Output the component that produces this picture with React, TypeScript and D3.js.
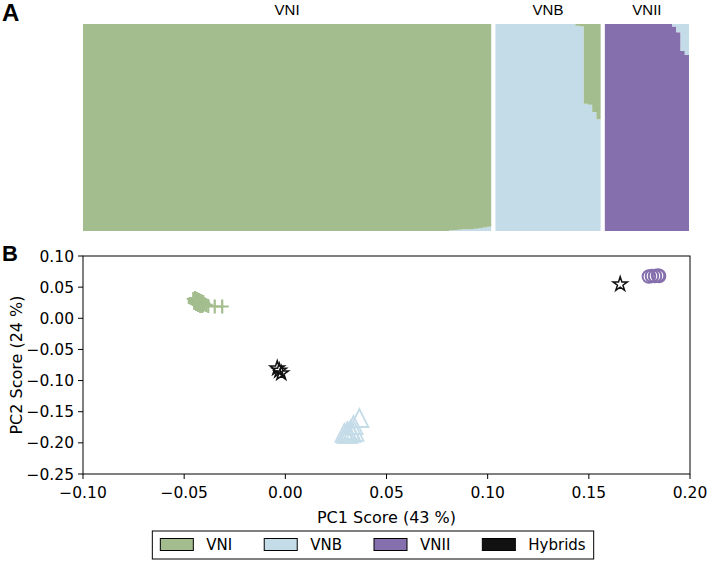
import React from 'react';
import * as d3 from 'd3';

const W = 711;
const H = 562;

// ---------- Panel A: admixture proportions per individual ----------
const groupNames = ['VNI', 'VNB', 'VNII'];
const colors: Record<string, string> = {
  VNI: '#a3bd8e',
  VNB: '#c4dbe8',
  VNII: '#866fad',
  Hybrids: '#111111',
};

// VNI individuals: share of VNB ancestry (remainder VNI)
const vniShareVNB = [
  0, 0, 0, 0, 0, 0, 0, 0, 0, 0, 0, 0, 0, 0, 0, 0, 0, 0, 0, 0,
  0, 0, 0, 0, 0, 0, 0, 0, 0, 0, 0, 0, 0, 0, 0, 0, 0, 0, 0, 0,
  0, 0, 0, 0, 0, 0, 0, 0, 0, 0, 0, 0, 0, 0, 0, 0, 0, 0, 0, 0,
  0, 0, 0, 0, 0, 0, 0, 0, 0, 0, 0, 0, 0, 0, 0, 0, 0, 0, 0, 0,
  0, 0, 0, 0, 0, 0, 0, 0.004, 0.005, 0.006, 0.008, 0.009, 0.01, 0.011, 0.015, 0.017,
  0.02,
];
// VNB individuals: share of VNI ancestry (remainder VNB)
const vnbShareVNI = [
  0, 0, 0, 0, 0, 0, 0, 0, 0, 0, 0, 0, 0, 0, 0, 0, 0, 0, 0, 0.008,
  0.012, 0.385, 0.39, 0.425, 0.46,
];
// VNII individuals: share of VNB ancestry (remainder VNII)
const vniiShareVNB = [
  0, 0, 0, 0, 0, 0, 0, 0, 0, 0, 0, 0, 0, 0, 0, 0, 0.012, 0.04, 0.13, 0.15,
];

// ---------- Panel B: PCA scores [PC1, PC2] ----------
const vniPoints: [number, number][] = [
  [-0.0455, 0.031], [-0.045, 0.0278], [-0.0446, 0.0294], [-0.0441, 0.0262],
  [-0.0436, 0.0278], [-0.0431, 0.0246], [-0.0426, 0.0262], [-0.0421, 0.023],
  [-0.0416, 0.0246], [-0.0411, 0.023], [-0.0406, 0.0214], [-0.0446, 0.0326],
  [-0.0436, 0.031], [-0.0426, 0.0294], [-0.0416, 0.0278], [-0.0406, 0.0262],
  [-0.045, 0.0246], [-0.0441, 0.023], [-0.0431, 0.0214], [-0.0421, 0.0197],
  [-0.0411, 0.0197], [-0.0401, 0.023], [-0.0391, 0.0214], [-0.0381, 0.0197],
  [-0.0349, 0.0189], [-0.0312, 0.0189],
];
const vnbPoints: [number, number][] = [
  [0.0366, -0.1601], [0.0337, -0.1713], [0.0307, -0.1809], [0.0292, -0.1841],
  [0.0312, -0.1857], [0.0327, -0.1841], [0.0342, -0.1825], [0.0322, -0.1793],
  [0.0302, -0.1857],
];
const vniiPoints: [number, number][] = [
  [0.1797, 0.0671], [0.1812, 0.0679], [0.1827, 0.0679], [0.1842, 0.0687], [0.1847, 0.0679],
];
const hybridPoints: [number, number][] = [
  [-0.004, -0.0803], [-0.003, -0.084], [-0.002, -0.0883], [0.1655, 0.0546],
];

const xTicks = [-0.1, -0.05, 0, 0.05, 0.1, 0.15, 0.2];
const yTicks = [-0.25, -0.2, -0.15, -0.1, -0.05, 0, 0.05, 0.1];
const legendLabels = ['VNI', 'VNB', 'VNII', 'Hybrids'];

const sans = 'DejaVu Sans, sans-serif';
const narrow = '"Liberation Sans Narrow", "Arial Narrow", sans-serif';

function starPath(cx: number, cy: number, R: number) {
  const r = R * 0.381966;
  const pts: string[] = [];
  for (let i = 0; i < 10; i++) {
    const a = -Math.PI / 2 + (i * Math.PI) / 5;
    const rad = i % 2 === 0 ? R : r;
    pts.push(`${cx + rad * Math.cos(a)},${cy + rad * Math.sin(a)}`);
  }
  return `M${pts.join('L')}Z`;
}

function measure(text: string, font: string) {
  const c = document.createElement('canvas').getContext('2d');
  if (!c) return text.length * 9;
  c.font = font;
  return c.measureText(text).width;
}

export default function App() {
  // ----- Panel A layout -----
  const counts = [vniShareVNB.length, vnbShareVNI.length, vniiShareVNB.length];
  const totalSlots = counts[0] + counts[1] + counts[2] + 2;
  const xA = d3.scaleLinear().domain([0, totalSlots]).range([83, 689]);
  const yA = d3.scaleLinear().domain([0, 1]).range([231, 24]);

  const groupData = [
    vniShareVNB.map((s) => ({ VNII: 0, VNB: s, VNI: 1 - s })),
    vnbShareVNI.map((s) => ({ VNII: 0, VNB: 1 - s, VNI: s })),
    vniiShareVNB.map((s) => ({ VNII: 1 - s, VNB: s, VNI: 0 })),
  ];
  const stackKeys = ['VNII', 'VNB', 'VNI'];
  let offset = 0;
  const groupsA = groupData.map((rows, gi) => {
    const start = offset;
    offset += rows.length + 1;
    const ext = [...rows, rows[rows.length - 1]];
    const series = d3.stack<any>().keys(stackKeys)(ext);
    const area = d3
      .area<any>()
      .x((_, i) => xA(start + i))
      .y0((d) => yA(d[0]))
      .y1((d) => yA(d[1]))
      .curve(d3.curveStepAfter);
    return {
      name: groupNames[gi],
      start,
      end: start + rows.length,
      layers: series.map((s) => ({ key: s.key, d: area(s as any) || '' })),
    };
  });

  // ----- Panel B scales -----
  const x = d3.scaleLinear().domain([-0.1, 0.2]).range([83, 690]);
  const y = d3.scaleLinear().domain([-0.25, 0.1]).range([474, 256]);
  const fmt = d3.format('.2f');

  const tri = (cx: number, cy: number, s: number) =>
    `M${cx},${cy - s / 2}L${cx - s / 2},${cy + s / 2}L${cx + s / 2},${cy + s / 2}Z`;

  // ----- legend layout -----
  const fontL = `15px ${sans}`;
  const patchW = 33;
  const patchH = 12;
  const textGap = 13;
  const colGap = 32;
  const pad = 8;
  const widths = legendLabels.map((l) => measure(l, fontL));
  const contentW =
    legendLabels.length * (patchW + textGap) + d3.sum(widths) + (legendLabels.length - 1) * colGap;
  const boxW = contentW + 2 * pad;
  const boxX = 373 - boxW / 2;
  let cursor = boxX + pad;
  const legendItems = legendLabels.map((l, i) => {
    const px = cursor;
    cursor += patchW + textGap + widths[i] + colGap;
    return { label: l, px, tx: px + patchW + textGap };
  });

  return (
    <svg
      width={W}
      height={H}
      style={{ position: 'absolute', left: 0, top: 0, background: '#fff' }}
      fontFamily={sans}
    >
      {/* Panel A */}
      <text x={2} y={21} fontFamily={narrow} fontWeight="bold" fontSize={24}>A</text>
      {groupsA.map((g) => (
        <g key={g.name}>
          {g.layers.map((l) => (
            <path key={l.key} d={l.d} fill={colors[l.key]} />
          ))}
          <text
            x={(xA(g.start) + xA(g.end)) / 2}
            y={15}
            textAnchor="middle"
            fontFamily={narrow}
            fontSize={15}
          >
            {g.name}
          </text>
        </g>
      ))}

      {/* Panel B */}
      <text x={2} y={261} fontFamily="Liberation Sans, Arial, sans-serif" fontWeight="bold" fontSize={22}>B</text>

      {/* markers */}
      <g fill="none" stroke={colors.VNI} strokeWidth={2.2}>
        {vniPoints.map(([a, b], i) => (
          <path
            key={i}
            d={`M${x(a) - 6.5},${y(b)}H${x(a) + 6.5}M${x(a)},${y(b) - 7}V${y(b) + 7}`}
          />
        ))}
      </g>
      <g fill="none" stroke={colors.VNB} strokeWidth={1.8}>
        {vnbPoints.map(([a, b], i) => (
          <path key={i} d={tri(x(a), y(b), 18)} />
        ))}
      </g>
      <g fill="none" stroke={colors.VNII} strokeWidth={2}>
        {vniiPoints.map(([a, b], i) => (
          <circle key={i} cx={x(a)} cy={y(b)} r={6.3} />
        ))}
      </g>
      <g fill="none" stroke={colors.Hybrids} strokeWidth={1.5} strokeLinejoin="miter">
        {hybridPoints.map(([a, b], i) => (
          <path key={i} d={starPath(x(a), y(b), 7.5)} />
        ))}
      </g>

      {/* frame */}
      <rect
        x={x(-0.1)}
        y={y(0.1)}
        width={x(0.2) - x(-0.1)}
        height={y(-0.25) - y(0.1)}
        fill="none"
        stroke="#000"
        strokeWidth={1}
      />

      {/* x axis */}
      <g>
        {xTicks.map((t) => (
          <g key={t} transform={`translate(${x(t)},${y(-0.25)})`}>
            <line y2={5} stroke="#000" />
            <text y={24} textAnchor="middle" fontSize={15.5}>
              {fmt(t)}
            </text>
          </g>
        ))}
        <text x={(x(-0.1) + x(0.2)) / 2} y={523} textAnchor="middle" fontSize={16}>
          PC1 Score (43 %)
        </text>
      </g>

      {/* y axis */}
      <g>
        {yTicks.map((t) => (
          <g key={t} transform={`translate(${x(-0.1)},${y(t)})`}>
            <line x2={-5} stroke="#000" />
            <text x={-9} dy="0.36em" textAnchor="end" fontSize={15.5}>
              {fmt(t)}
            </text>
          </g>
        ))}
        <text
          transform={`translate(22,${(y(0.1) + y(-0.25)) / 2}) rotate(-90)`}
          textAnchor="middle"
          fontSize={16}
        >
          PC2 Score (24 %)
        </text>
      </g>

      {/* legend */}
      <g>
        <rect x={boxX} y={531} width={boxW} height={28} fill="#fff" stroke="#000" strokeWidth={1} />
        {legendItems.map((it) => (
          <g key={it.label}>
            <rect
              x={it.px}
              y={538.5}
              width={patchW}
              height={patchH}
              fill={colors[it.label]}
              stroke="#000"
              strokeWidth={1}
            />
            <text x={it.tx} y={550} fontSize={15}>
              {it.label}
            </text>
          </g>
        ))}
      </g>
    </svg>
  );
}
